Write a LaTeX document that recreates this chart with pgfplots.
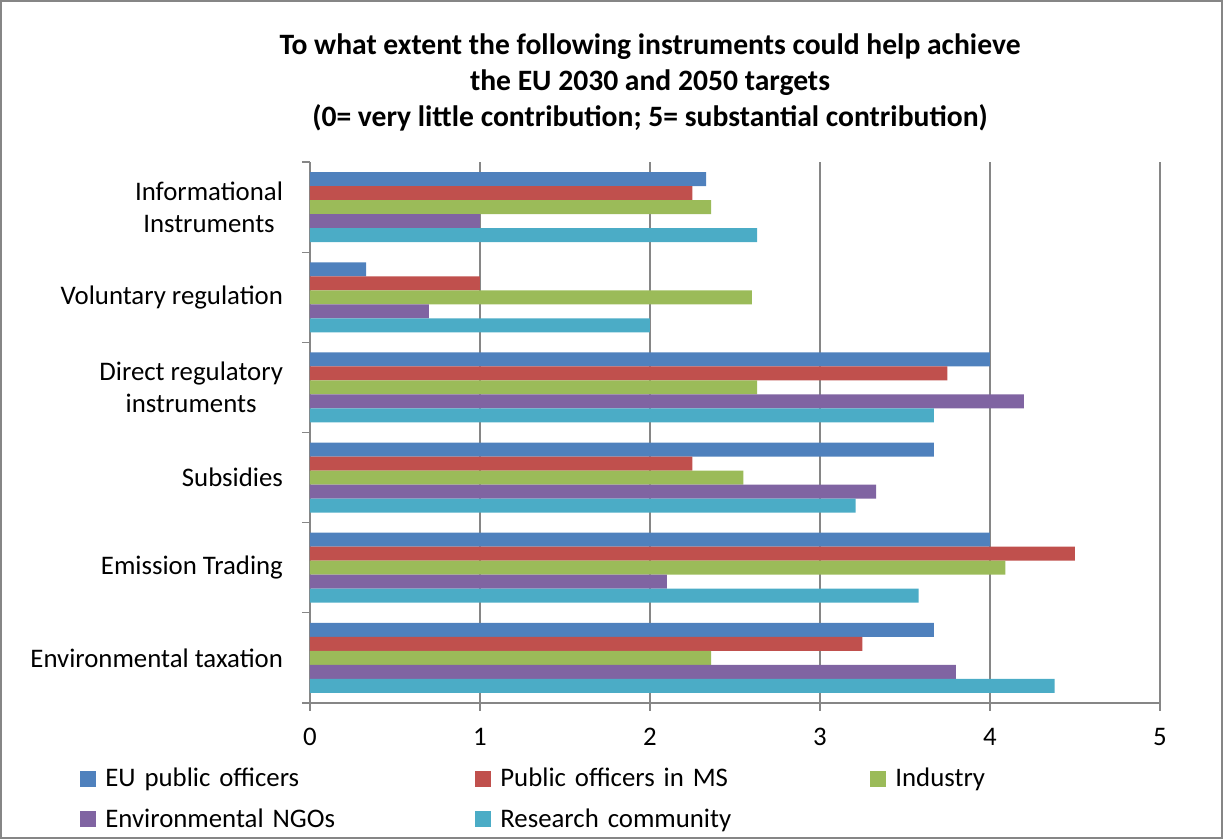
\documentclass[border=0pt]{standalone}
\usepackage{pgfplots}
\usepackage{pgfplotstable}
\pgfplotsset{compat=1.18}
\usepackage{fontspec}
\setmainfont{Carlito}

\definecolor{sEU}{HTML}{4F81BD}
\definecolor{sMS}{HTML}{C0504D}
\definecolor{sInd}{HTML}{9BBB59}
\definecolor{sNGO}{HTML}{8064A2}
\definecolor{sRes}{HTML}{4BACC6}
\definecolor{axgray}{HTML}{868686}

% rows top to bottom: Informational, Voluntary, Direct, Subsidies, Emission, Env. taxation
\pgfplotstableread{
idx eu   ms   ind  ngo  res
0   2.33 2.25 2.36 1.00 2.63
1   0.33 1.00 2.60 0.70 2.00
2   4.00 3.75 2.63 4.20 3.67
3   3.67 2.25 2.55 3.33 3.21
4   4.00 4.50 4.09 2.10 3.58
5   3.67 3.25 2.36 3.80 4.38
}\scores

\begin{document}
\begin{tikzpicture}
\path[use as bounding box] (0,0) rectangle (611.5pt,419.5pt);
\draw[axgray, line width=0.7pt] (0.5pt,0.5pt) rectangle (611pt,419pt);
\node[align=center, font=\bfseries\fontsize{14.8}{18}\selectfont] at (325pt,378.5pt)
  {To what extent the following instruments could help achieve\\
   the EU 2030 and 2050 targets\\
   (0= very little contribution; 5= substantial contribution)};
\begin{axis}[
    at={(155pt,68pt)}, anchor=south west,
    scale only axis,
    width=425pt, height=270.5pt,
    xbar=0pt, bar width=7pt,
    xmin=0, xmax=5, ymin=-0.5, ymax=5.5,
    y dir=reverse,
    axis x line*=bottom, axis y line*=left,
    axis line style={axgray, line width=0.6pt},
    xtick={0,...,5},
    xmajorgrids, major grid style={axgray, line width=0.6pt},
    ytick={0,...,5},
    yticklabels={Informational\\Instruments, Voluntary regulation, Direct regulatory\\instruments, Subsidies, Emission Trading, Environmental taxation},
    minor ytick={-0.5,0.5,...,5.5},
    major y tick style={draw=none},
    minor y tick style={axgray, line width=0.6pt},
    major x tick style={axgray, line width=0.6pt},
    tick align=outside,
    major tick length=4pt, minor tick length=4pt,
    /pgf/number format/assume math mode=true,
    tick label style={font=\fontsize{13.4}{16}\selectfont},
    yticklabel style={align=center, xshift=-6pt},
    xticklabel style={yshift=-5pt},
    legend columns=3,
    legend style={draw=none, inner sep=0pt, fill=none,
        at={(-0.2706,-0.1775)}, anchor=west,
        font=\fontsize{13.4}{16}\selectfont,
        /tikz/every odd column/.append style={column sep=4.5pt},
        nodes={text width=185pt, align=left, inner xsep=0pt},
        row sep=5.5pt},
    legend image code/.code={\fill[#1] (0pt,-4pt) rectangle (8pt,4pt);},
    every axis plot/.append style={draw=none},
]
\addplot[fill=sEU, bar shift=14pt] table[x=eu, y=idx] \scores;
\addplot[fill=sMS, bar shift=7pt] table[x=ms, y=idx] \scores;
\addplot[fill=sInd, bar shift=0pt] table[x=ind, y=idx] \scores;
\addplot[fill=sNGO, bar shift=-7pt] table[x=ngo, y=idx] \scores;
\addplot[fill=sRes, bar shift=-14pt] table[x=res, y=idx] \scores;
\legend{EU public officers, Public officers in MS, Industry, Environmental NGOs, Research community}
\end{axis}
\end{tikzpicture}
\end{document}
